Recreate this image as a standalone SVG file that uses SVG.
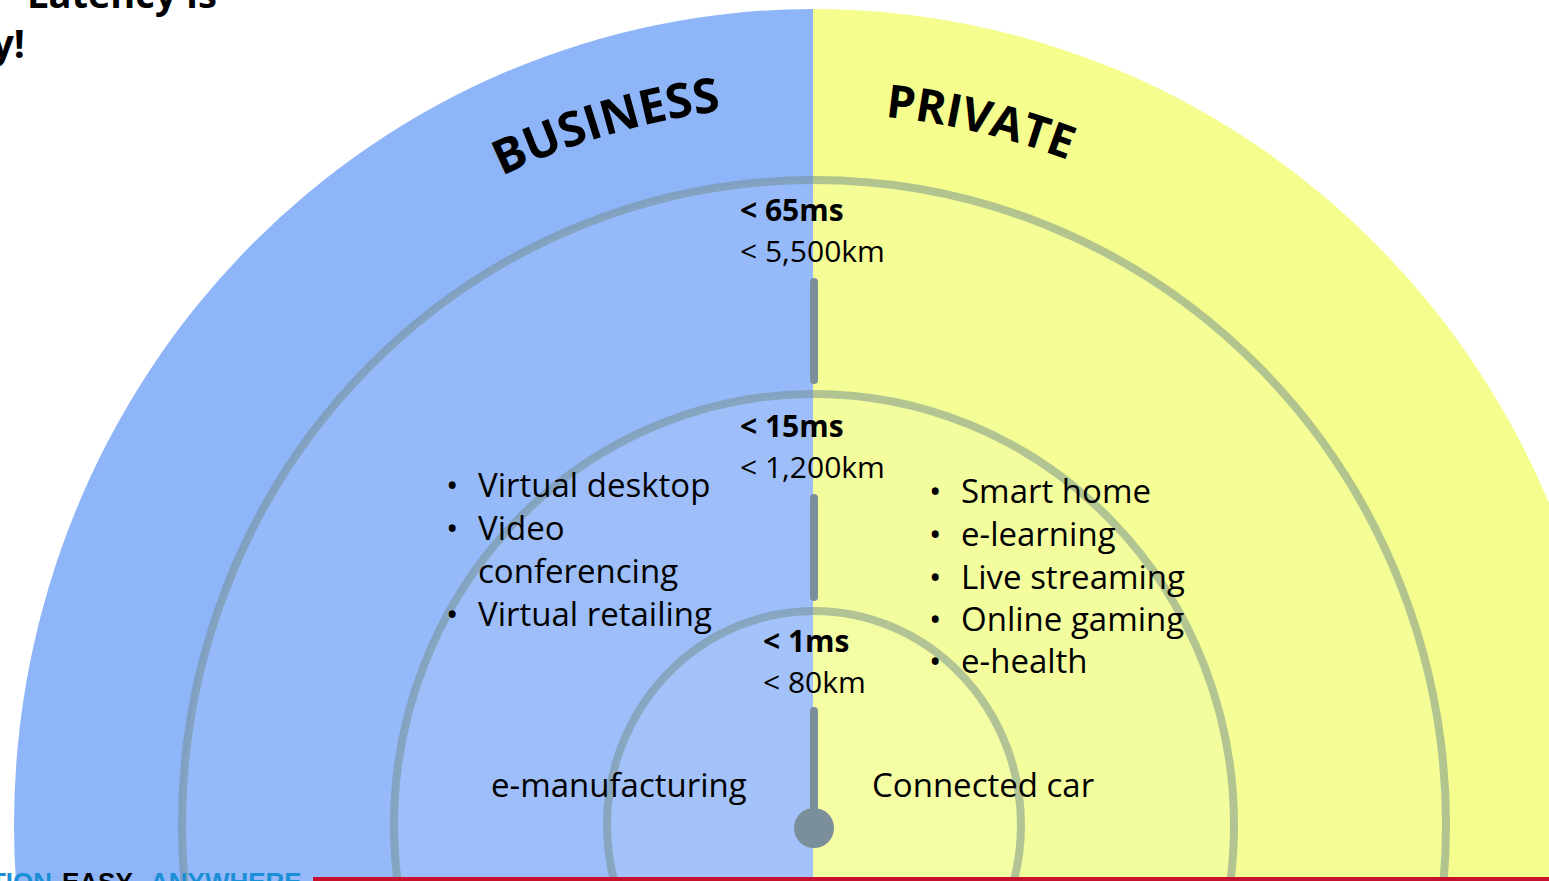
<svg xmlns="http://www.w3.org/2000/svg" width="1549" height="881" viewBox="0 0 1549 881">
  <defs>
    <clipPath id="clipL"><rect x="0" y="0" width="813" height="881"/></clipPath>
    <clipPath id="clipR"><rect x="813" y="0" width="736" height="881"/></clipPath>
    <path id="arcB" d="M 94 825 A 720 720 0 0 1 1534 825"/>
    <path id="arcP" d="M 102 825 A 712 712 0 0 1 1526 825"/>
    <style>
      .t { font-family: "Open Sans", "Noto Sans", "Liberation Sans", sans-serif; fill: #000; }
      .list { font-size: 33px; }
      .lbl { font-size: 30px; }
      .b { font-weight: bold; }
      .head { font-weight: bold; }
      .ring { fill: #ffffff; fill-opacity: 0.07; stroke: rgb(112,139,137); stroke-opacity: 0.5; stroke-width: 8; }
      .bar { stroke: #7b8f9b; stroke-width: 8; stroke-linecap: round; fill: none; }
      .foot { font-family: "Liberation Sans", Arial, sans-serif; font-weight: bold; font-size: 26px; }
    </style>
  </defs>

  <rect x="0" y="0" width="1549" height="881" fill="#ffffff"/>

  <g id="business-half" clip-path="url(#clipL)">
    <ellipse cx="814" cy="825" rx="800" ry="816" fill="#8fb5f9"/>
  </g>
  <g id="private-half" clip-path="url(#clipR)">
    <ellipse cx="814" cy="825" rx="800" ry="816" fill="#f4fd8e"/>
  </g>

  <g id="ring-65ms">
    <ellipse class="ring" cx="814" cy="825" rx="632" ry="645"/>
  </g>
  <g id="ring-15ms">
    <ellipse class="ring" cx="814" cy="825" rx="420" ry="431"/>
  </g>
  <g id="ring-1ms">
    <ellipse class="ring" cx="814" cy="825" rx="207" ry="214"/>
  </g>

  <g id="connectors">
    <line class="bar" x1="814" y1="282" x2="814" y2="380"/>
    <line class="bar" x1="814" y1="498" x2="814" y2="597"/>
    <line class="bar" x1="814" y1="711" x2="814" y2="826"/>
    <circle cx="814" cy="828" r="20" fill="#7b8f9b"/>
  </g>

  <g id="title">
    <text class="t b" x="27" y="8" font-size="38">Latency is</text>
    <text class="t b" x="25" y="58" font-size="39" text-anchor="end">y!</text>
  </g>

  <g id="label-business">
    <text class="t head" font-size="48"><textPath href="#arcB" startOffset="40.8%" text-anchor="middle">BUSINESS</textPath></text>
  </g>
  <g id="label-private">
    <text class="t head" font-size="46"><textPath href="#arcP" startOffset="57.4%" text-anchor="middle">PRIVATE</textPath></text>
  </g>

  <g id="label-65ms">
    <text class="t lbl b" x="740" y="221">&lt; 65ms</text>
    <text class="t lbl" x="740" y="262">&lt; 5,500km</text>
  </g>
  <g id="label-15ms">
    <text class="t lbl b" x="740" y="437">&lt; 15ms</text>
    <text class="t lbl" x="740" y="478">&lt; 1,200km</text>
  </g>
  <g id="label-1ms">
    <text class="t lbl b" x="763" y="652">&lt; 1ms</text>
    <text class="t lbl" x="763" y="693">&lt; 80km</text>
  </g>

  <g id="business-list">
    <text class="t list" x="446" y="497">•</text>
    <text class="t list" x="478" y="497">Virtual desktop</text>
    <text class="t list" x="446" y="540">•</text>
    <text class="t list" x="478" y="540">Video</text>
    <text class="t list" x="478" y="583">conferencing</text>
    <text class="t list" x="446" y="626">•</text>
    <text class="t list" x="478" y="626">Virtual retailing</text>
  </g>

  <g id="private-list">
    <text class="t list" x="929" y="503">•</text>
    <text class="t list" x="961" y="503">Smart home</text>
    <text class="t list" x="929" y="546">•</text>
    <text class="t list" x="961" y="546">e-learning</text>
    <text class="t list" x="929" y="589">•</text>
    <text class="t list" x="961" y="589">Live streaming</text>
    <text class="t list" x="929" y="631">•</text>
    <text class="t list" x="961" y="631">Online gaming</text>
    <text class="t list" x="929" y="673">•</text>
    <text class="t list" x="961" y="673">e-health</text>
  </g>

  <g id="inner-business">
    <text class="t list" x="491" y="797">e-manufacturing</text>
  </g>
  <g id="inner-private">
    <text class="t list" x="872" y="797">Connected car</text>
  </g>

  <g id="footer">
    <rect x="313" y="877" width="1236" height="4" fill="#c8102e"/>
    <text class="foot" x="52" y="891" fill="#1b8fd6" text-anchor="end">TION</text>
    <text class="foot" x="62" y="891" fill="#000000">EASY.</text>
    <text class="foot" x="150" y="891" fill="#1b8fd6">ANYWHERE</text>
  </g>
</svg>
